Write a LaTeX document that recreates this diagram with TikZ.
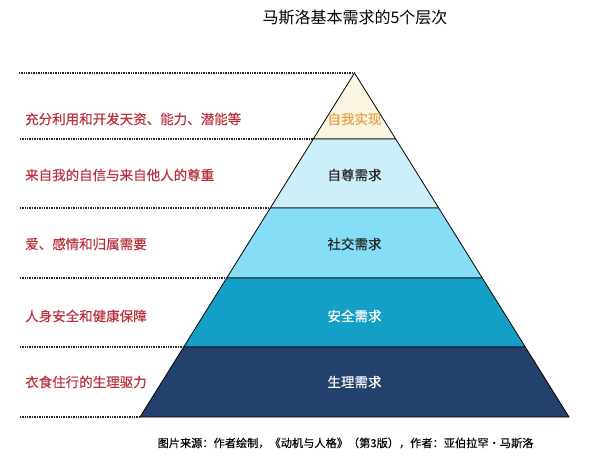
\documentclass[tikz,border=0pt]{standalone}
\usepackage{fontspec}
\newfontfamily\cjk[FakeBold=0.3]{Noto Sans CJK SC}
\newfontfamily\cjkplain{Noto Sans CJK SC}
\definecolor{needred}{HTML}{B8323C}
\definecolor{selfcol}{HTML}{E9A24E}
\definecolor{lay1}{HTML}{FBF6E2}
\definecolor{lay2}{HTML}{CDEFFA}
\definecolor{lay3}{HTML}{86DEF6}
\definecolor{lay4}{HTML}{149FC7}
\definecolor{lay5}{HTML}{24406D}
\tikzset{
  dots/.style={line width=1.4pt,dash pattern=on 0.9pt off 0.8pt,black!85},
  layer/.style={draw=black,line width=0.8pt,line join=round},
  need/.style={font=\cjk\fontsize{13.5}{16}\selectfont,text=needred,anchor=west,inner sep=0pt},
  tier/.style={font=\cjk\fontsize{13.5}{16}\selectfont,inner sep=0pt}
}
\begin{document}
\begin{tikzpicture}[x=1pt,y=-1pt]
      \useasboundingbox (0,0) rectangle (600,464);

      % pyramid corners
      \coordinate (top) at (354.5,73);
      \coordinate (l1) at (313.3,139); \coordinate (r1) at (395.7,139);
      \coordinate (l2) at (270.3,208); \coordinate (r2) at (438.7,208);
      \coordinate (l3) at (226.7,278); \coordinate (r3) at (482.3,278);
      \coordinate (l4) at (183.7,347); \coordinate (r4) at (525.3,347);
      \coordinate (l5) at (140,417);   \coordinate (r5) at (569,417);

      % left ends of the dotted lines
      \coordinate (d0) at (19,73);
      \coordinate (d1) at (20,139);
      \coordinate (d2) at (20,208);
      \coordinate (d3) at (20,278);
      \coordinate (d4) at (20,347);
      \coordinate (d5) at (20,417);

      \filldraw[layer,fill=lay1] (top) -- (l1) -- (r1) -- cycle;
      \filldraw[layer,fill=lay2] (l1) -- (l2) -- (r2) -- (r1) -- cycle;
      \filldraw[layer,fill=lay3] (l2) -- (l3) -- (r3) -- (r2) -- cycle;
      \filldraw[layer,fill=lay4] (l3) -- (l4) -- (r4) -- (r3) -- cycle;
      \filldraw[layer,fill=lay5] (l4) -- (l5) -- (r5) -- (r4) -- cycle;

      \draw[dots] (d0) -- (top);
      \draw[dots] (d1) -- (l1);
      \draw[dots] (d2) -- (l2);
      \draw[dots] (d3) -- (l3);
      \draw[dots] (d4) -- (l4);
      \draw[dots] (d5) -- (l5);

      \begin{scope}[every node/.style={tier}]
        \node[text=selfcol] (t1) at (354.5,119) {自我实现};
        \node[text=black!85] (t2) at (354.5,175) {自尊需求};
        \node[text=black!85] (t3) at (354.5,244) {社交需求};
        \node[text=white]    (t4) at (354.5,316) {安全需求};
        \node[text=white]    (t5) at (354.5,382) {生理需求};
      \end{scope}

      \begin{scope}[every node/.style={need}]
        \node (n1) at (25,119) {充分利用和开发天资、能力、潜能等};
        \node (n2) at (25,175) {来自我的自信与来自他人的尊重};
        \node (n3) at (25,244) {爱、感情和归属需要};
        \node (n4) at (25,316) {人身安全和健康保障};
        \node (n5) at (25,382) {衣食住行的生理驱力};
      \end{scope}

      \node[font=\cjkplain\fontsize{16}{19}\selectfont,inner sep=0pt] (title) at (355,18) {马斯洛基本需求的5个层次};
      \node[font=\cjk\fontsize{11.2}{13}\selectfont,inner sep=0pt] (source) at (345.5,443)
        {图片来源：作者绘制，《动机与人格》（第3版），作者：亚伯拉罕·马斯洛};

    \end{tikzpicture}
\end{document}
